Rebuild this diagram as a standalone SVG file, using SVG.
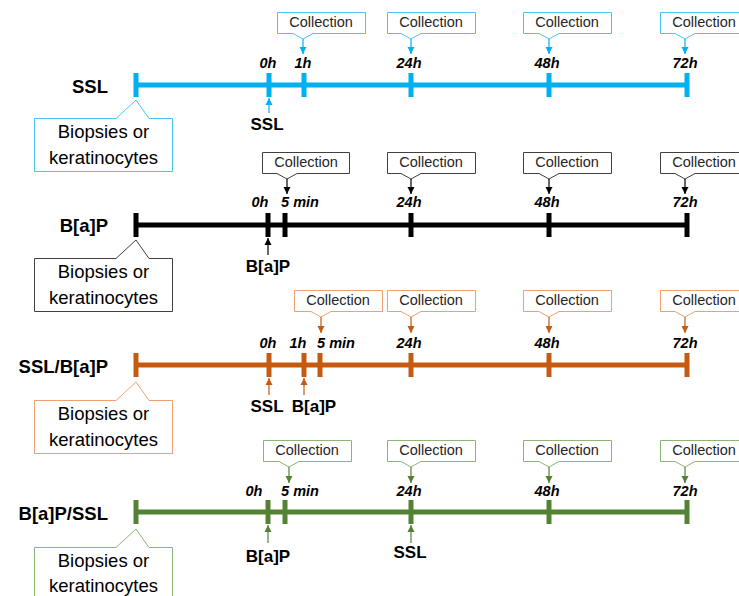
<svg xmlns="http://www.w3.org/2000/svg" width="739" height="596" viewBox="0 0 739 596">
<style>
.lbl{font-family:"Liberation Sans",Arial,sans-serif;font-weight:bold;font-size:17px;fill:#000}
.rl{font-size:18.5px}
.t{font-family:"Liberation Sans",Arial,sans-serif;font-weight:bold;font-style:italic;font-size:14.5px;fill:#000;text-anchor:middle}
.col{font-family:"Liberation Sans",Arial,sans-serif;font-size:14.5px;fill:#262626;text-anchor:middle}
.bio{font-family:"Liberation Sans",Arial,sans-serif;font-size:18.5px;fill:#000;text-anchor:middle}
.cb{fill:#fff;stroke-width:1}
.blue .ln{stroke:#00B0F0}.blue .tk{fill:#00B0F0}.blue .cb{stroke:#4CC3F0}.blue .ar{stroke:#00B0F0}
.black .ln{stroke:#000}.black .tk{fill:#000}.black .cb{stroke:#404040}.black .ar{stroke:#000}
.orange .ln{stroke:#C55A11}.orange .tk{fill:#C55A11}.orange .cb{stroke:#F0A070}.orange .ar{stroke:#C55A11}
.green .ln{stroke:#548235}.green .tk{fill:#548235}.green .cb{stroke:#8DB573}.green .ar{stroke:#548235}
.ln{stroke-width:5;fill:none}
.ar{stroke-width:1.2;fill:none}
</style>
<defs>
<marker id="mb" markerWidth="8" markerHeight="8" refX="7" refY="4" orient="auto" markerUnits="userSpaceOnUse"><path d="M0,0.5 L7,4 L0,7.5 Z" fill="#00B0F0"/></marker>
<marker id="mk" markerWidth="8" markerHeight="8" refX="7" refY="4" orient="auto" markerUnits="userSpaceOnUse"><path d="M0,0.5 L7,4 L0,7.5 Z" fill="#000"/></marker>
<marker id="mo" markerWidth="8" markerHeight="8" refX="7" refY="4" orient="auto" markerUnits="userSpaceOnUse"><path d="M0,0.5 L7,4 L0,7.5 Z" fill="#C55A11"/></marker>
<marker id="mg" markerWidth="8" markerHeight="8" refX="7" refY="4" orient="auto" markerUnits="userSpaceOnUse"><path d="M0,0.5 L7,4 L0,7.5 Z" fill="#548235"/></marker>
</defs>

<!-- ROW 1 : SSL (blue) -->
<g id="row-ssl" class="blue">
  <text class="lbl rl" x="108" y="93" text-anchor="end">SSL</text>
  <line class="ln" x1="136" y1="85" x2="687" y2="85"/>
  <rect class="tk" x="133.5" y="73" width="5" height="24"/>
  <rect class="tk" x="266.5" y="73" width="5" height="24"/>
  <rect class="tk" x="301.5" y="73" width="5" height="24"/>
  <rect class="tk" x="408.5" y="73" width="5" height="24"/>
  <rect class="tk" x="546.5" y="73" width="5" height="24"/>
  <rect class="tk" x="684.5" y="73" width="5" height="24"/>
  <text class="t" x="268" y="68">0h</text>
  <text class="t" x="303" y="68">1h</text>
  <text class="t" x="409" y="68">24h</text>
  <text class="t" x="547" y="68">48h</text>
  <text class="t" x="685" y="68">72h</text>
  <g id="bio1"><path class="cb" d="M34.5,118.5 H116 L136,100 L149,118.5 H172.5 V171.5 H34.5 Z"/>
  <text class="bio" x="103.5" y="138">Biopsies or</text><text class="bio" x="103.5" y="164">keratinocytes</text></g>
  <g id="c1a"><path class="cb" d="M277.5,12.5 H365.5 V33.5 H313 L303,39 L293,33.5 H277.5 Z"/><text class="col" x="321" y="27">Collection</text></g>
  <g id="c1b"><path class="cb" d="M387.5,12.5 H475.5 V33.5 H421 L411,39 L401,33.5 H387.5 Z"/><text class="col" x="431" y="27">Collection</text></g>
  <g id="c1c"><path class="cb" d="M523.5,12.5 H611.5 V33.5 H559 L549,39 L539,33.5 H523.5 Z"/><text class="col" x="567" y="27">Collection</text></g>
  <g id="c1d"><path class="cb" d="M660.5,12.5 H748.5 V33.5 H695 L685,39 L675,33.5 H660.5 Z"/><text class="col" x="704" y="27">Collection</text></g>
  <text class="lbl" x="267" y="130" text-anchor="middle">SSL</text>
</g>

<!-- ROW 2 : B[a]P (black) -->
<g id="row-bap" class="black">
  <text class="lbl rl" x="108" y="232" text-anchor="end">B[a]P</text>
  <line class="ln" x1="136" y1="225" x2="687" y2="225"/>
  <rect class="tk" x="133.5" y="213" width="5" height="24"/>
  <rect class="tk" x="265.5" y="213" width="5" height="24"/>
  <rect class="tk" x="282.5" y="213" width="5" height="24"/>
  <rect class="tk" x="408.5" y="213" width="5" height="24"/>
  <rect class="tk" x="546.5" y="213" width="5" height="24"/>
  <rect class="tk" x="684.5" y="213" width="5" height="24"/>
  <text class="t" x="260" y="207">0h</text>
  <text class="t" x="300" y="207">5 min</text>
  <text class="t" x="409" y="207">24h</text>
  <text class="t" x="547" y="207">48h</text>
  <text class="t" x="685" y="207">72h</text>
  <g id="bio2"><path class="cb" d="M34.5,258.5 H116 L136,240 L149,258.5 H172.5 V311.5 H34.5 Z"/>
  <text class="bio" x="103.5" y="278">Biopsies or</text><text class="bio" x="103.5" y="304">keratinocytes</text></g>
  <g id="c2a"><path class="cb" d="M262.5,152.5 H349.5 V173.5 H297 L287,179 L277,173.5 H262.5 Z"/><text class="col" x="306" y="167">Collection</text></g>
  <g id="c2b"><path class="cb" d="M387.5,152.5 H475.5 V173.5 H421 L411,179 L401,173.5 H387.5 Z"/><text class="col" x="431" y="167">Collection</text></g>
  <g id="c2c"><path class="cb" d="M523.5,152.5 H611.5 V173.5 H559 L549,179 L539,173.5 H523.5 Z"/><text class="col" x="567" y="167">Collection</text></g>
  <g id="c2d"><path class="cb" d="M660.5,152.5 H748.5 V173.5 H695 L685,179 L675,173.5 H660.5 Z"/><text class="col" x="704" y="167">Collection</text></g>
  <text class="lbl" x="268" y="272" text-anchor="middle">B[a]P</text>
</g>

<!-- ROW 3 : SSL/B[a]P (orange) -->
<g id="row-ssl-bap" class="orange">
  <text class="lbl rl" x="108" y="373" text-anchor="end">SSL/B[a]P</text>
  <line class="ln" x1="136" y1="365" x2="687" y2="365"/>
  <rect class="tk" x="133.5" y="353" width="5" height="24"/>
  <rect class="tk" x="266.5" y="353" width="5" height="24"/>
  <rect class="tk" x="301.5" y="353" width="5" height="24"/>
  <rect class="tk" x="317.5" y="353" width="5" height="24"/>
  <rect class="tk" x="408.5" y="353" width="5" height="24"/>
  <rect class="tk" x="546.5" y="353" width="5" height="24"/>
  <rect class="tk" x="684.5" y="353" width="5" height="24"/>
  <text class="t" x="268" y="348">0h</text>
  <text class="t" x="298" y="348">1h</text>
  <text class="t" x="336" y="348">5 min</text>
  <text class="t" x="409" y="348">24h</text>
  <text class="t" x="547" y="348">48h</text>
  <text class="t" x="685" y="348">72h</text>
  <g id="bio3"><path class="cb" d="M34.5,400.5 H116 L136,382 L149,400.5 H172.5 V453.5 H34.5 Z"/>
  <text class="bio" x="103.5" y="420">Biopsies or</text><text class="bio" x="103.5" y="446">keratinocytes</text></g>
  <g id="c3a"><path class="cb" d="M294.5,290.5 H382.5 V311.5 H331 L321,317 L311,311.5 H294.5 Z"/><text class="col" x="338" y="305">Collection</text></g>
  <g id="c3b"><path class="cb" d="M387.5,290.5 H475.5 V311.5 H421 L411,317 L401,311.5 H387.5 Z"/><text class="col" x="431" y="305">Collection</text></g>
  <g id="c3c"><path class="cb" d="M523.5,290.5 H611.5 V311.5 H559 L549,317 L539,311.5 H523.5 Z"/><text class="col" x="567" y="305">Collection</text></g>
  <g id="c3d"><path class="cb" d="M660.5,290.5 H748.5 V311.5 H695 L685,317 L675,311.5 H660.5 Z"/><text class="col" x="704" y="305">Collection</text></g>
  <text class="lbl" x="267" y="412" text-anchor="middle">SSL</text>
  <text class="lbl" x="314" y="412" text-anchor="middle">B[a]P</text>
</g>

<!-- ROW 4 : B[a]P/SSL (green) -->
<g id="row-bap-ssl" class="green">
  <text class="lbl rl" x="108" y="520" text-anchor="end">B[a]P/SSL</text>
  <line class="ln" x1="136" y1="512" x2="687" y2="512"/>
  <rect class="tk" x="133.5" y="500" width="5" height="24"/>
  <rect class="tk" x="265.5" y="500" width="5" height="24"/>
  <rect class="tk" x="282.5" y="500" width="5" height="24"/>
  <rect class="tk" x="408.5" y="500" width="5" height="24"/>
  <rect class="tk" x="546.5" y="500" width="5" height="24"/>
  <rect class="tk" x="684.5" y="500" width="5" height="24"/>
  <text class="t" x="254" y="496">0h</text>
  <text class="t" x="300" y="496">5 min</text>
  <text class="t" x="409" y="496">24h</text>
  <text class="t" x="547" y="496">48h</text>
  <text class="t" x="685" y="496">72h</text>
  <g id="bio4"><path class="cb" d="M34.5,547.5 H116 L136,529 L149,547.5 H172.5 V600 H34.5 Z"/>
  <text class="bio" x="103.5" y="567">Biopsies or</text><text class="bio" x="103.5" y="592">keratinocytes</text></g>
  <g id="c4a"><path class="cb" d="M263.5,440.5 H351.5 V461.5 H299 L289,467 L279,461.5 H263.5 Z"/><text class="col" x="307" y="455">Collection</text></g>
  <g id="c4b"><path class="cb" d="M387.5,440.5 H475.5 V461.5 H421 L411,467 L401,461.5 H387.5 Z"/><text class="col" x="431" y="455">Collection</text></g>
  <g id="c4c"><path class="cb" d="M523.5,440.5 H611.5 V461.5 H559 L549,467 L539,461.5 H523.5 Z"/><text class="col" x="567" y="455">Collection</text></g>
  <g id="c4d"><path class="cb" d="M660.5,440.5 H748.5 V461.5 H695 L685,467 L675,461.5 H660.5 Z"/><text class="col" x="704" y="455">Collection</text></g>
  <text class="lbl" x="268" y="562" text-anchor="middle">B[a]P</text>
  <text class="lbl" x="410" y="558" text-anchor="middle">SSL</text>
</g>

<!-- connectors -->
<g id="connectors">
  <g class="blue">
    <line class="ar" x1="303" y1="39" x2="303" y2="54" marker-end="url(#mb)"/>
    <line class="ar" x1="411" y1="39" x2="411" y2="54" marker-end="url(#mb)"/>
    <line class="ar" x1="549" y1="39" x2="549" y2="54" marker-end="url(#mb)"/>
    <line class="ar" x1="685" y1="39" x2="685" y2="54" marker-end="url(#mb)"/>
    <line class="ar" x1="269" y1="113" x2="269" y2="98" marker-end="url(#mb)"/>
  </g>
  <g class="black">
    <line class="ar" x1="287" y1="179" x2="287" y2="194" marker-end="url(#mk)"/>
    <line class="ar" x1="411" y1="179" x2="411" y2="194" marker-end="url(#mk)"/>
    <line class="ar" x1="549" y1="179" x2="549" y2="194" marker-end="url(#mk)"/>
    <line class="ar" x1="685" y1="179" x2="685" y2="194" marker-end="url(#mk)"/>
    <line class="ar" x1="268" y1="255" x2="268" y2="238" marker-end="url(#mk)"/>
  </g>
  <g class="orange">
    <line class="ar" x1="321" y1="317" x2="321" y2="333" marker-end="url(#mo)"/>
    <line class="ar" x1="411" y1="317" x2="411" y2="333" marker-end="url(#mo)"/>
    <line class="ar" x1="549" y1="317" x2="549" y2="333" marker-end="url(#mo)"/>
    <line class="ar" x1="685" y1="317" x2="685" y2="333" marker-end="url(#mo)"/>
    <line class="ar" x1="269" y1="395" x2="269" y2="378" marker-end="url(#mo)"/>
    <line class="ar" x1="304" y1="395" x2="304" y2="378" marker-end="url(#mo)"/>
  </g>
  <g class="green">
    <line class="ar" x1="289" y1="467" x2="289" y2="483" marker-end="url(#mg)"/>
    <line class="ar" x1="411" y1="467" x2="411" y2="483" marker-end="url(#mg)"/>
    <line class="ar" x1="549" y1="467" x2="549" y2="483" marker-end="url(#mg)"/>
    <line class="ar" x1="685" y1="467" x2="685" y2="483" marker-end="url(#mg)"/>
    <line class="ar" x1="268" y1="543" x2="268" y2="525" marker-end="url(#mg)"/>
    <line class="ar" x1="411" y1="543" x2="411" y2="525" marker-end="url(#mg)"/>
  </g>
</g>
</svg>
